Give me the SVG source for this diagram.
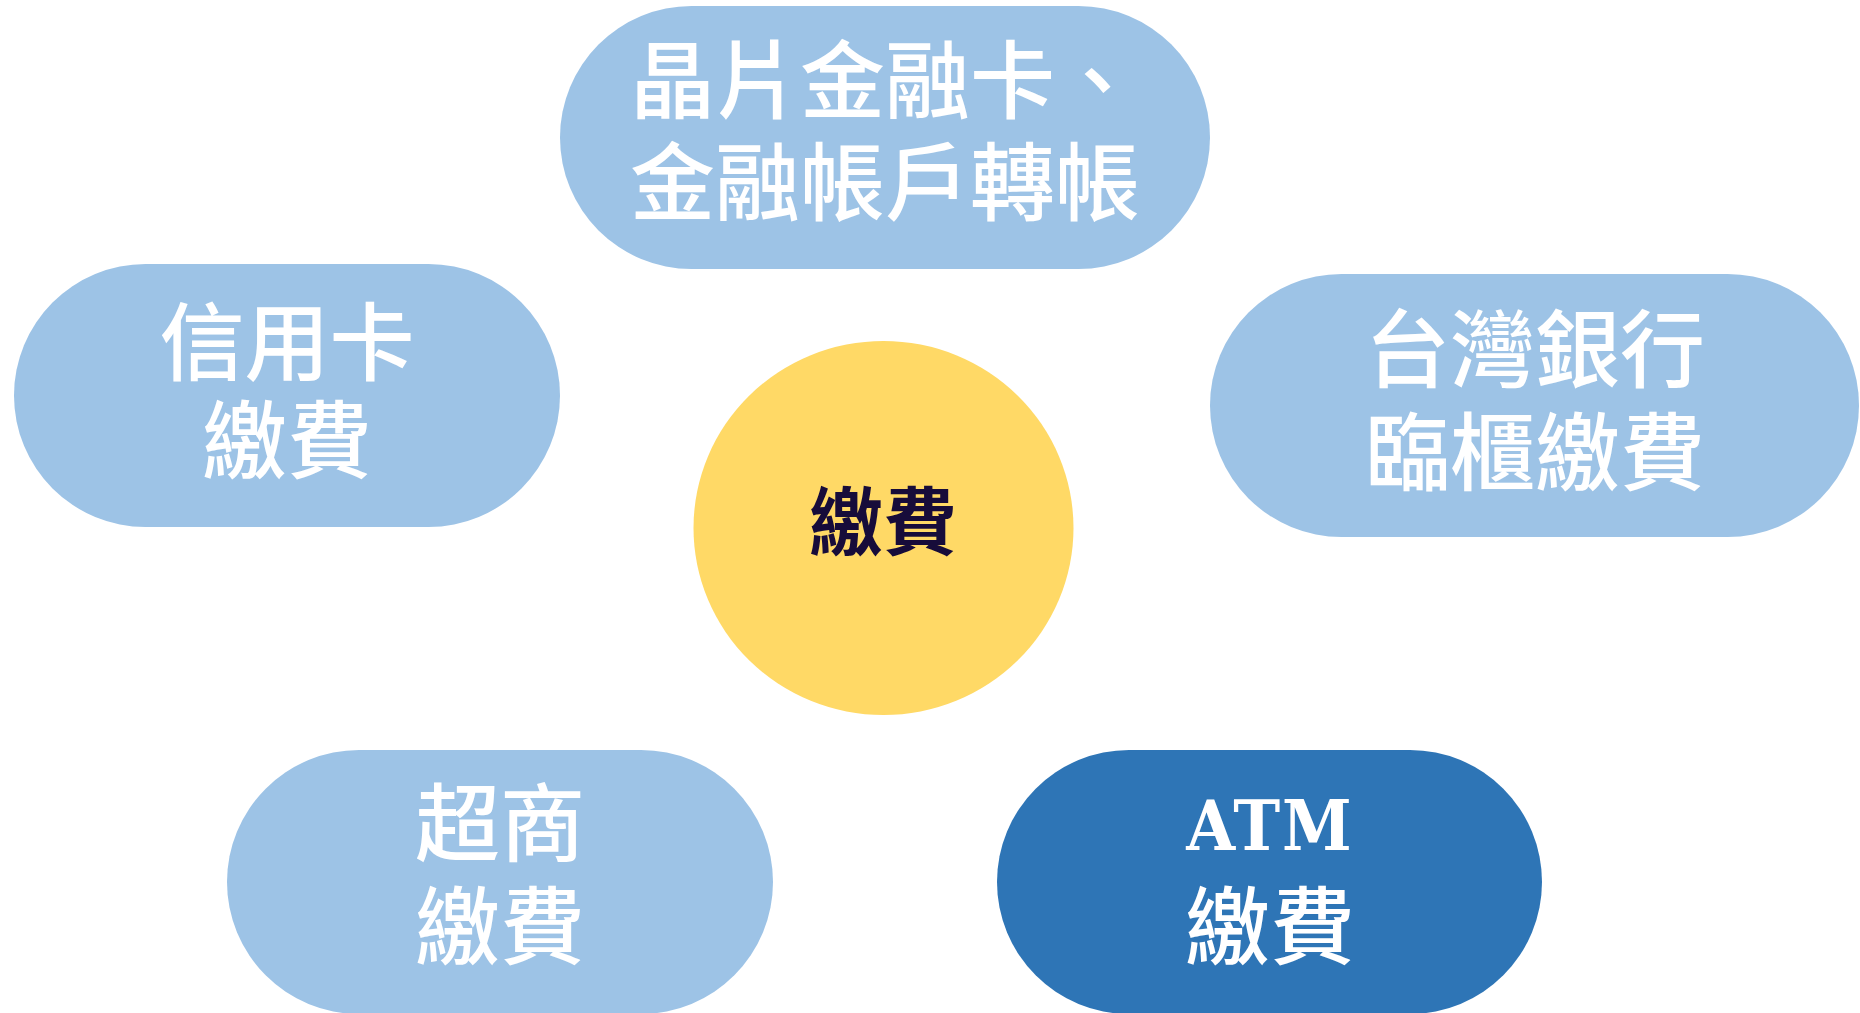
<svg xmlns="http://www.w3.org/2000/svg" width="1860" height="1013" viewBox="0 0 1860 1013">
<style>
.light{fill:#9dc3e6}
.dark{fill:#2e75b6}
.hub{fill:#ffd966}
.lbl{font-family:"Noto Sans CJK TC","Noto Sans CJK SC",sans-serif;font-size:85px;font-weight:500;fill:#ffffff;text-anchor:middle}
.hubt{font-family:"Noto Sans CJK TC","Noto Sans CJK SC",sans-serif;font-size:74px;font-weight:bold;fill:#170c3a;text-anchor:middle}
.lat{font-family:"DejaVu Serif Condensed","DejaVu Serif",serif;font-stretch:condensed;font-size:70px;font-weight:bold;fill:#ffffff;letter-spacing:2px}
</style>
<rect width="1860" height="1013" fill="#ffffff"/>
<g id="connectors"></g>
<g id="node-top">
<rect class="light" x="560" y="6" width="650" height="263" rx="131.5"/>
<text class="lbl" x="885" y="112">晶片金融卡、<tspan x="885" dy="102">金融帳戶轉帳</tspan></text>
</g>
<g id="node-left">
<rect class="light" x="14" y="264" width="546" height="263" rx="131.5"/>
<text class="lbl" x="287" y="374">信用卡<tspan x="287" dy="98">繳費</tspan></text>
</g>
<g id="node-right">
<rect class="light" x="1210" y="274" width="649" height="263" rx="131.5"/>
<text class="lbl" x="1535" y="381">台灣銀行<tspan x="1535" dy="103">臨櫃繳費</tspan></text>
</g>
<g id="node-center">
<ellipse class="hub" cx="883.5" cy="528" rx="190" ry="187"/>
<text class="hubt" x="883" y="549">繳費</text>
</g>
<g id="node-bottom-left">
<rect class="light" x="227" y="750" width="546" height="264" rx="132"/>
<text class="lbl" x="500" y="855">超商<tspan x="500" dy="103">繳費</tspan></text>
</g>
<g id="node-bottom-right">
<rect class="dark" x="997" y="750" width="545" height="264" rx="132"/>
<text class="lbl" x="1270" y="850"><tspan class="lat" x="1270" text-anchor="middle">ATM</tspan><tspan x="1270" dy="108">繳費</tspan></text>
</g>
</svg>
